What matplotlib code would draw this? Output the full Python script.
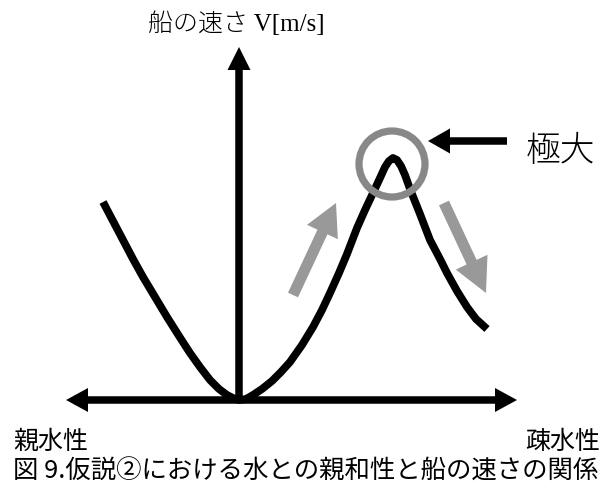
import matplotlib
matplotlib.use("Agg")
import matplotlib.pyplot as plt
from matplotlib.patches import Circle

plt.rcParams['font.family'] = ['Noto Sans CJK JP', 'DejaVu Sans']

# hypothesis curve: hydrophobicity (x) vs boat speed (y), origin at axis crossing
hydro = [-136, -126, -116, -106, -96, -84, -72, -60, -49, -39, -29, -20, -12, -6, 0,
         7, 14, 23, 33, 42, 51, 63, 74, 83, 91, 100, 108, 118, 126, 134, 141, 146,
         150, 154, 158, 162, 166, 171, 181, 191, 201, 208, 218, 228, 237, 248]
speed = [198, 179, 160, 141, 123, 103, 83, 64, 47, 33, 20, 11, 5, 2, 0,
         1, 5, 11, 19, 28, 38, 55, 73, 90, 107, 127, 146, 172, 190, 207, 222, 233,
         239, 242, 240, 234, 225, 211, 186, 160, 141, 127, 109, 93, 81, 71]

peak = (153, 236)
peak_r = 33

x_axis = (-173, 278)
y_axis_top = 353

title = "船の速さ V[m/s]"
peak_label = "極大"
left_label = "親水性"
right_label = "疎水性"
caption = "図 9.仮説②における水との親和性と船の速さの関係"

fig = plt.figure(figsize=(6.08, 4.90), dpi=100)
ax = fig.add_axes([0, 0, 1, 1])
ax.set_xlim(-239, 369)
ax.set_ylim(-90, 400)
ax.axis('off')

# axes arrows
ax.arrow(0, 0, x_axis[0], 0, width=7.5, head_width=24, head_length=22,
         length_includes_head=True, color='black', lw=0)
ax.arrow(0, 0, x_axis[1], 0, width=7.5, head_width=24, head_length=22,
         length_includes_head=True, color='black', lw=0)
ax.arrow(0, 0, 0, y_axis_top, width=7.5, head_width=23, head_length=23,
         length_includes_head=True, color='black', lw=0)

ax.plot(hydro, speed, color='black', lw=5.6, solid_capstyle='butt',
        solid_joinstyle='round', zorder=3)

ax.add_patch(Circle(peak, peak_r, fill=False, ec='#888888', lw=5.2, zorder=4))

# pointer to maximum
ax.arrow(268, 259, -79, 0, width=7.5, head_width=25, head_length=22,
         length_includes_head=True, color='black', lw=0)

# gray trend arrows
ax.arrow(54, 105, 43, 92, width=11, head_width=34, head_length=32,
         length_includes_head=True, color='#999999', lw=0)
ax.arrow(205, 197, 42, -90, width=11, head_width=35, head_length=34,
         length_includes_head=True, color='#999999', lw=0)

serif = ['Liberation Serif', 'Noto Sans CJK JP']
ax.text(-3, 376, title, family=serif, fontsize=18, weight='light',
        ha='center', va='center')
ax.text(287, 248, peak_label, family=serif, fontsize=25, weight='light',
        ha='left', va='center')
ax.text(-226, -42, left_label, fontsize=18, ha='left', va='center')
ax.text(361, -42, right_label, fontsize=18, ha='right', va='center')
ax.text(-226, -72, caption, fontsize=18.3, ha='left', va='center')

fig.savefig("out.png", dpi=100)
